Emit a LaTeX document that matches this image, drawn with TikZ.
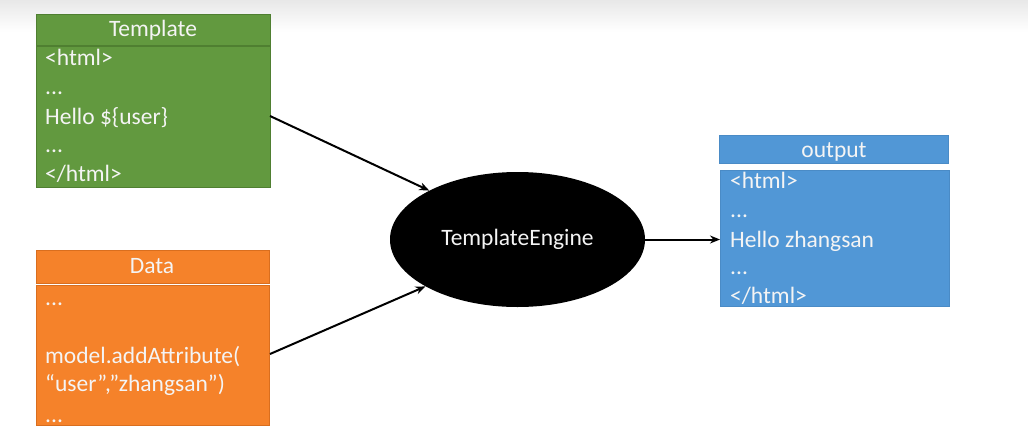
\documentclass[tikz,border=0pt]{standalone}
\usepackage{fontspec}
\setmainfont{Carlito}
\usetikzlibrary{shapes.geometric,arrows.meta}
\definecolor{tgreen}{HTML}{62993F}
\definecolor{tgreenb}{HTML}{4F7F31}
\definecolor{dorange}{HTML}{F5822A}
\definecolor{dorangeb}{HTML}{D96E1E}
\definecolor{oblue}{HTML}{5197D6}
\definecolor{obluebd}{HTML}{4A8BC6}
\definecolor{txtc}{HTML}{F4F4F4}
\begin{document}
\begin{tikzpicture}[x=1pt,y=-1pt,
  box/.style={draw=#1, line width=0.8pt, inner sep=0pt, anchor=north west},
  txt/.style={anchor=base west, inner sep=0pt, text=txtc, font=\fontsize{23.5}{28}\selectfont},
  htxt/.style={anchor=base, inner sep=0pt, text=txtc, font=\fontsize{23.5}{28}\selectfont},
  arr/.style={line width=2pt, -{Stealth[length=10pt,width=8pt]}}]
\useasboundingbox (0,0) rectangle (1028,439);
\fill[white] (0,0) rectangle (1028,439);
\shade[top color=black!9, bottom color=white] (0,0) rectangle (1028,32);
% Template
\node[box=tgreenb, fill=tgreen, minimum width=234pt, minimum height=31pt] (th) at (36,14) {};
\node[htxt] (tht) at (153,36) {Template};
\node[box=tgreenb, fill=tgreen, minimum width=234pt, minimum height=141pt] (tb) at (36,46) {};
\node[txt] (t1) at (45,65) {<html>};
\node[txt] (t2) at (45,94) {...};
\node[txt] (t3) at (45,124) {Hello \$\{user\}};
\node[txt] (t4) at (45,152) {...};
\node[txt] (t5) at (45,181) {</html>};
% Data
\node[box=dorangeb, fill=dorange, minimum width=233pt, minimum height=33pt] (dh) at (36,250) {};
\node[htxt] (dht) at (152,273) {Data};
\node[box=dorangeb, fill=dorange, minimum width=233pt, minimum height=140pt] (db) at (36,285) {};
\node[txt] (d1) at (45,305) {...};
\node[txt] (d2) at (45,363) {model.addAttribute(};
\node[txt] (d3) at (45,391) {“user”,”zhangsan”)};
\node[txt] (d4) at (45,422) {...};
% output
\node[box=obluebd, fill=oblue, minimum width=229pt, minimum height=28pt] (oh) at (719,135) {};
\node[htxt] (oht) at (834,157) {output};
\node[box=obluebd, fill=oblue, minimum width=229pt, minimum height=136pt] (ob) at (720,170) {};
\node[txt] (o1) at (730,188) {<html>};
\node[txt] (o2) at (730,217) {...};
\node[txt] (o3) at (730,247) {Hello zhangsan};
\node[txt] (o4) at (730,274) {...};
\node[txt] (o5) at (730,303) {</html>};
% engine
\node[ellipse, fill=black, minimum width=255pt, minimum height=135pt, inner sep=0pt,
      text=txtc, font=\fontsize{23.5}{28}\selectfont] (eng) at (517.5,239.5) {TemplateEngine};
\coordinate (ta) at (270,116);
\coordinate (da) at (270,354);
\draw[arr] (ta) -- (eng.151.8);
\draw[arr] (da) -- (eng.207.2);
\draw[arr] (eng.east) -- (ob.west |- eng.east);
\end{tikzpicture}
\end{document}
